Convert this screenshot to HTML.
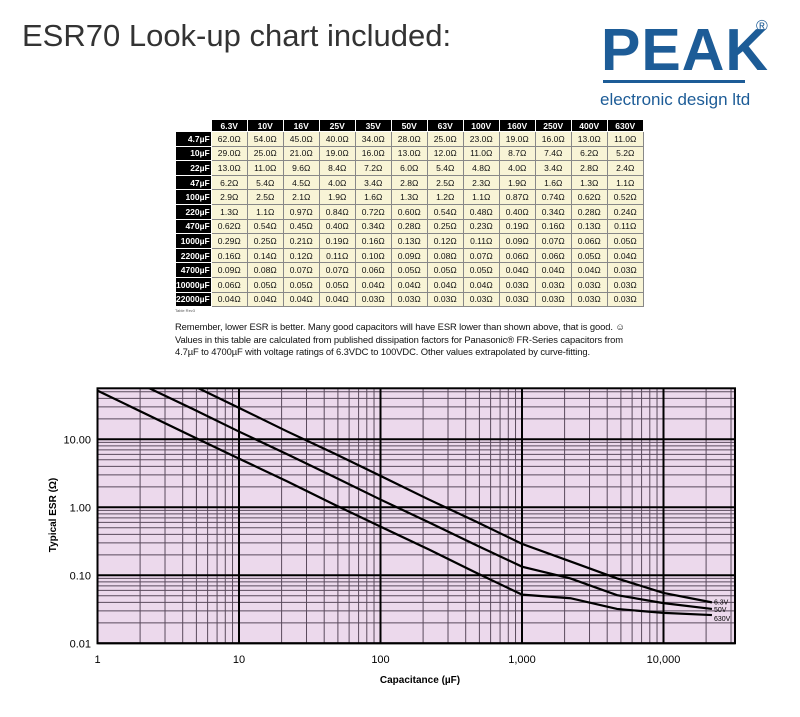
<!DOCTYPE html>
<html><head><meta charset="utf-8">
<style>
body{margin:0;width:800px;height:717px;background:#fff;position:relative;overflow:hidden;font-family:"Liberation Sans",sans-serif}
.abs{position:absolute}
#tbl{position:absolute;left:175px;top:119px;border-collapse:collapse;font-size:8.5px}
#tbl td{height:13.6px;padding:0;text-align:center;border:1px solid #888;background:#f8f4d6;color:#111;width:35px}
#tbl th{background:#000;color:#fff;font-weight:bold;border:1px solid #fff;padding:0;height:11px}
#tbl th.rh{width:33px;text-align:right;padding-right:1px}
</style></head><body>
<div class="abs" style="left:22px;top:18px;font-size:31px;color:#333;">ESR70 Look-up chart included:</div>
<div class="abs" style="left:598px;top:18px;width:180px;height:95px;color:#1d5c97">
 <div class="abs" style="left:3px;top:2px;font-size:59px;font-weight:bold;letter-spacing:1px;line-height:60px">PEAK</div>
 <div class="abs" style="left:5px;top:62px;width:142px;height:3px;background:#1d5c97"></div>
 <div class="abs" style="left:158px;top:0px;font-size:16px">®</div>
 <div class="abs" style="left:2px;top:72px;font-size:17px">electronic design ltd</div>
</div>
<table id="tbl"></table>
<div class="abs" style="left:175px;top:308px;font-size:4px;color:#555">Table Rev3</div>
<div class="abs" style="left:175px;top:321px;font-size:9.4px;line-height:12.5px;color:#111;width:500px;letter-spacing:-0.1px">Remember, lower ESR is better. Many good capacitors will have ESR lower than shown above, that is good. ☺<br>Values in this table are calculated from published dissipation factors for Panasonic® FR-Series capacitors from<br>4.7µF to 4700µF with voltage ratings of 6.3VDC to 100VDC. Other values extrapolated by curve-fitting.</div>
<svg id="chart" class="abs" style="left:0;top:0" width="800" height="717"></svg>
<script>
const voltages=["6.3V","10V","16V","25V","35V","50V","63V","100V","160V","250V","400V","630V"];
const caps=["4.7µF","10µF","22µF","47µF","100µF","220µF","470µF","1000µF","2200µF","4700µF","10000µF","22000µF"];
const tableVals=[
["62.0","54.0","45.0","40.0","34.0","28.0","25.0","23.0","19.0","16.0","13.0","11.0"],
["29.0","25.0","21.0","19.0","16.0","13.0","12.0","11.0","8.7","7.4","6.2","5.2"],
["13.0","11.0","9.6","8.4","7.2","6.0","5.4","4.8","4.0","3.4","2.8","2.4"],
["6.2","5.4","4.5","4.0","3.4","2.8","2.5","2.3","1.9","1.6","1.3","1.1"],
["2.9","2.5","2.1","1.9","1.6","1.3","1.2","1.1","0.87","0.74","0.62","0.52"],
["1.3","1.1","0.97","0.84","0.72","0.60","0.54","0.48","0.40","0.34","0.28","0.24"],
["0.62","0.54","0.45","0.40","0.34","0.28","0.25","0.23","0.19","0.16","0.13","0.11"],
["0.29","0.25","0.21","0.19","0.16","0.13","0.12","0.11","0.09","0.07","0.06","0.05"],
["0.16","0.14","0.12","0.11","0.10","0.09","0.08","0.07","0.06","0.06","0.05","0.04"],
["0.09","0.08","0.07","0.07","0.06","0.05","0.05","0.05","0.04","0.04","0.04","0.03"],
["0.06","0.05","0.05","0.05","0.04","0.04","0.04","0.04","0.03","0.03","0.03","0.03"],
["0.04","0.04","0.04","0.04","0.03","0.03","0.03","0.03","0.03","0.03","0.03","0.03"]];
const tbl=document.getElementById('tbl');
let h='<tr><th style="background:#fff;border:none"></th>'+voltages.map(v=>'<th>'+v+'</th>').join('')+'</tr>';
caps.forEach((c,i)=>{h+='<tr><th class="rh">'+c+'</th>'+tableVals[i].map(v=>'<td>'+v+'Ω</td>').join('')+'</tr>';});
tbl.innerHTML=h;

// chart data
const xCaps=[1,4.7,10,22,47,100,220,470,1000,2200,4700,10000,22000];
const esr63=[290,62,29,13,6.2,2.9,1.3,0.62,0.29,0.16,0.09,0.055,0.04];
const esr50=[130,28,13,6.0,2.8,1.3,0.60,0.28,0.134,0.09,0.051,0.039,0.032];
const esr630=[52,11,5.2,2.4,1.1,0.52,0.24,0.11,0.052,0.046,0.032,0.028,0.026];
const seriesLabels=["6.3V","50V","630V"];
const xTicks=[1,10,100,1000,10000];
const xTickLabels=["1","10","100","1,000","10,000"];
const yTicks=[10,1,0.1,0.01];
const yTickLabels=["10.00","1.00","0.10","0.01"];
const X0=97.5,DX=141.5,Y1=507.3,DY=68,L=97.5,R=735,T=388.3,B=643.3;
const sx=v=>X0+Math.log10(v)*DX, sy=v=>Y1-Math.log10(v)*DY;
const svg=document.getElementById('chart'),NS='http://www.w3.org/2000/svg';
function mk(t,a){const e=document.createElementNS(NS,t);for(const k in a)e.setAttribute(k,a[k]);svg.appendChild(e);return e;}
let bg=mk('rect',{x:L,y:T,width:R-L,height:B-T,fill:'#ecd9ec'});


const defs=mk('defs',{});defs.innerHTML='<clipPath id="cp"><rect x="'+L+'" y="'+T+'" width="'+(R-L)+'" height="'+(B-T)+'"/></clipPath>';
for(let d=0;d<5;d++)for(let m=2;m<10;m++){const v=Math.pow(10,d)*m,x=sx(v);if(x<R){let g=mk('line',{x1:x,x2:x,y1:T,y2:B,stroke:'#5a4a5c','stroke-width':1});}}
for(let d=-2;d<2;d++)for(let m=2;m<10;m++){const v=Math.pow(10,d)*m,y=sy(v);if(y>T){let g=mk('line',{x1:L,x2:R,y1:y,y2:y,stroke:'#5a4a5c','stroke-width':1});}}
xTicks.forEach((v,i)=>{const x=sx(v);let g=mk('line',{x1:x,x2:x,y1:T,y2:B,stroke:'#000','stroke-width':2});
 let t=mk('text',{x:x,y:663,'text-anchor':'middle','font-size':11,'font-family':'Liberation Sans'});t.textContent=xTickLabels[i];});
yTicks.forEach((v,i)=>{const y=sy(v);let g=mk('line',{x1:L,x2:R,y1:y,y2:y,stroke:'#000','stroke-width':2});
 let t=mk('text',{x:91,y:y+4,'text-anchor':'end','font-size':11,'font-family':'Liberation Sans'});t.textContent=yTickLabels[i];});
let fr=mk('rect',{x:L,y:T,width:R-L,height:B-T,fill:'none',stroke:'#000','stroke-width':2});


[esr63,esr50,esr630].forEach((s,k)=>{const p=mk('polyline',{points:xCaps.map((c,i)=>sx(c)+','+sy(s[i])).join(' '),fill:'none',stroke:'#000','stroke-width':2.2,'clip-path':'url(#cp)'});
 
 
 const t=mk('text',{x:sx(22000)+2,y:sy(s[s.length-1])+3+[ -1,0,3][k],'font-size':7,'font-family':'Liberation Sans'});t.textContent=seriesLabels[k];
 
 });
let xt=mk('text',{x:420,y:683,'text-anchor':'middle','font-size':10,'font-weight':'bold','font-family':'Liberation Sans'});xt.textContent='Capacitance (µF)';


let yt=mk('text',{x:0,y:0,'text-anchor':'middle','font-size':10,'font-weight':'bold','font-family':'Liberation Sans',transform:'translate(56,515) rotate(-90)'});yt.textContent='Typical ESR (Ω)';


</script>
</body></html>
